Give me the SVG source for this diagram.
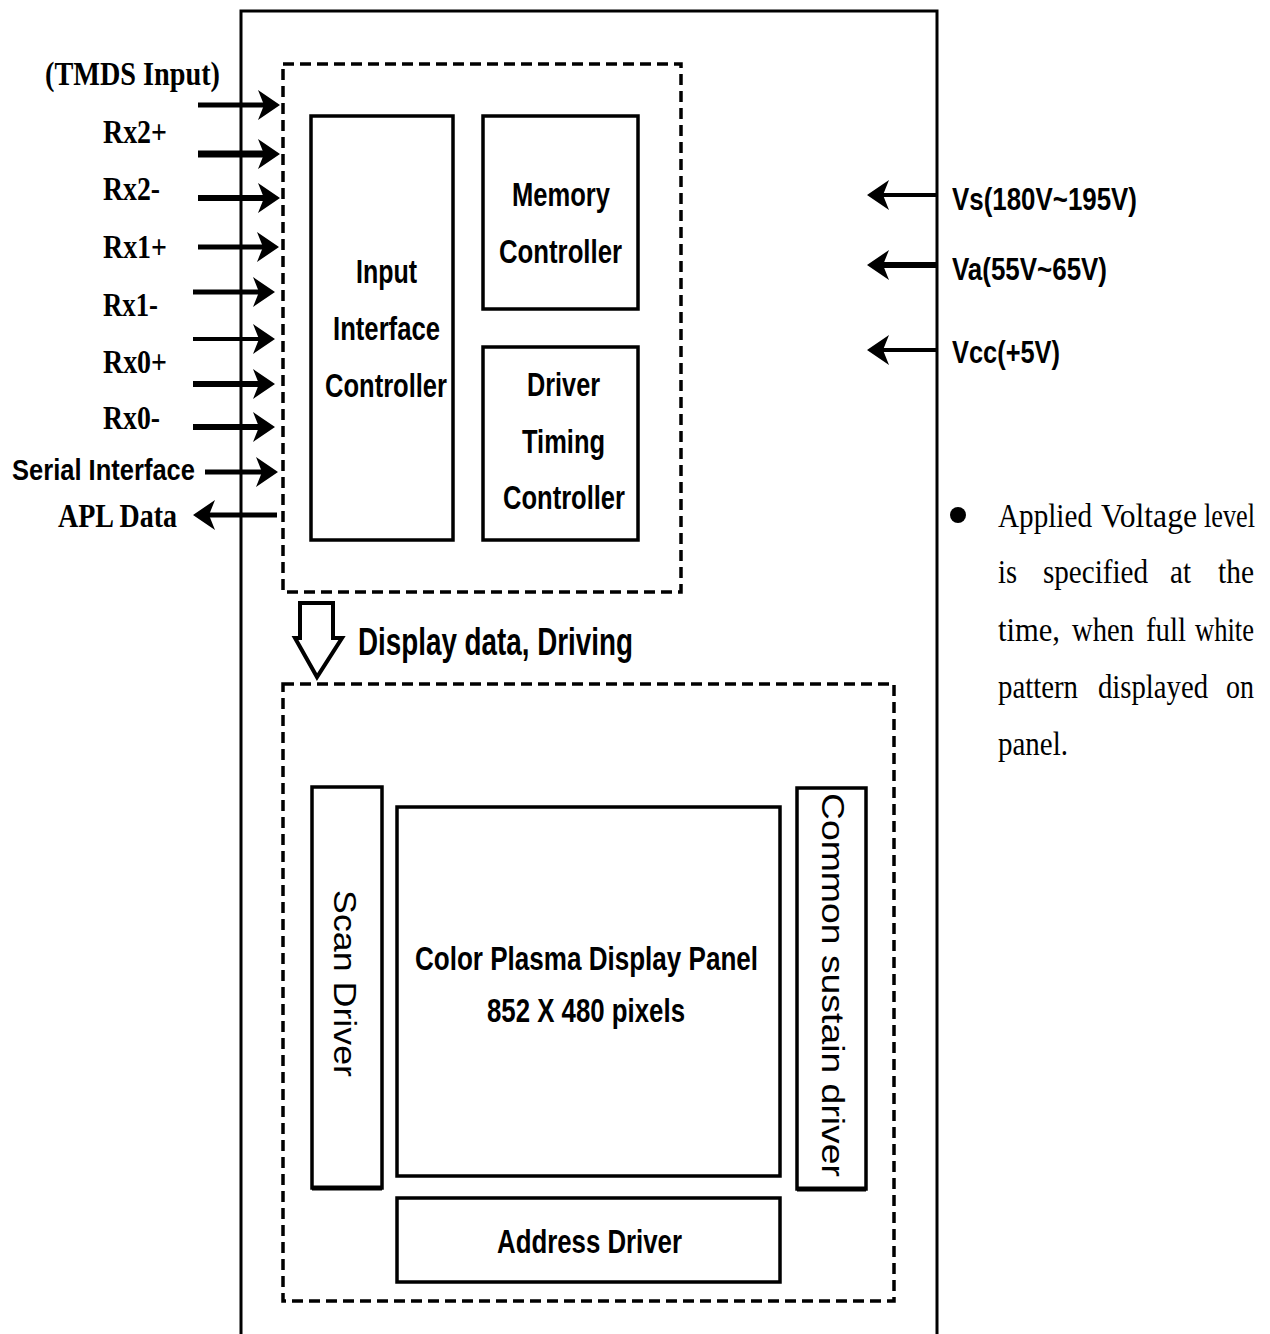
<svg xmlns="http://www.w3.org/2000/svg" width="1270" height="1334" viewBox="0 0 1270 1334">
<style>
.box{fill:none;stroke:#000;stroke-width:3.5}
.dash{fill:none;stroke:#000;stroke-width:3.5;stroke-dasharray:11 6}
.ar{stroke:#000;fill:none;marker-end:url(#ah)}
.sb{font-family:"Liberation Sans",Arial,sans-serif;font-weight:bold;fill:#000}
.sr{font-family:"Liberation Sans",Arial,sans-serif;fill:#000}
.tb{font-family:"Liberation Serif","Times New Roman",serif;font-weight:bold;fill:#000}
.tr{font-family:"Liberation Serif","Times New Roman",serif;fill:#000;font-size:33px}
</style>
<defs>
<marker id="ah" markerUnits="userSpaceOnUse" orient="auto" refX="0" refY="0" markerWidth="40" markerHeight="40" overflow="visible">
<path d="M10,0 L-12,-15 L-6,0 L-12,15 Z" fill="#000"/>
</marker>
</defs>
<rect width="1270" height="1334" fill="#fff"/>

<g id="outer">
<path d="M241,1334 V11 H937 V1334" fill="none" stroke="#000" stroke-width="3"/>
</g>

<g id="controller-group">
<rect class="dash" x="283" y="64" width="398" height="528"/>
</g>
<g id="panel-group">
<rect class="dash" x="283" y="684" width="611" height="617"/>
</g>

<g id="input-interface-controller">
<rect class="box" x="311" y="116" width="142" height="424"/>
<text class="sb" font-size="33" x="386.5" y="283" text-anchor="middle" textLength="61" lengthAdjust="spacingAndGlyphs">Input</text>
<text class="sb" font-size="33" x="386.5" y="340" text-anchor="middle" textLength="107" lengthAdjust="spacingAndGlyphs">Interface</text>
<text class="sb" font-size="33" x="386" y="397" text-anchor="middle" textLength="122" lengthAdjust="spacingAndGlyphs">Controller</text>
</g>

<g id="memory-controller">
<rect class="box" x="483" y="116" width="155" height="193"/>
<text class="sb" font-size="33" x="561" y="206" text-anchor="middle" textLength="98" lengthAdjust="spacingAndGlyphs">Memory</text>
<text class="sb" font-size="33" x="560.5" y="263" text-anchor="middle" textLength="123" lengthAdjust="spacingAndGlyphs">Controller</text>
</g>

<g id="driver-timing-controller">
<rect class="box" x="483" y="347" width="155" height="193"/>
<text class="sb" font-size="33" x="563.5" y="396" text-anchor="middle" textLength="73" lengthAdjust="spacingAndGlyphs">Driver</text>
<text class="sb" font-size="33" x="563.5" y="453" text-anchor="middle" textLength="83" lengthAdjust="spacingAndGlyphs">Timing</text>
<text class="sb" font-size="33" x="564" y="509" text-anchor="middle" textLength="122" lengthAdjust="spacingAndGlyphs">Controller</text>
</g>

<g id="scan-driver">
<rect class="box" x="312" y="787" width="70" height="401"/>
<line x1="312" y1="1188" x2="382" y2="1188" stroke="#000" stroke-width="5"/>
<text class="sr" font-size="31" transform="translate(345,983.5) rotate(90)" x="0" y="11" text-anchor="middle" textLength="187" lengthAdjust="spacingAndGlyphs">Scan Driver</text>
</g>

<g id="color-plasma-display-panel">
<rect class="box" x="397" y="807" width="383" height="369"/>
<text class="sb" font-size="33" x="586.5" y="970" text-anchor="middle" textLength="343" lengthAdjust="spacingAndGlyphs">Color Plasma Display Panel</text>
<text class="sb" font-size="33" x="586" y="1022" text-anchor="middle" textLength="198" lengthAdjust="spacingAndGlyphs">852 X 480 pixels</text>
</g>

<g id="common-sustain-driver">
<rect class="box" x="797" y="788" width="69" height="401"/>
<line x1="797" y1="1189" x2="866" y2="1189" stroke="#000" stroke-width="5"/>
<text class="sr" font-size="31" transform="translate(832,985) rotate(90)" x="0" y="10" text-anchor="middle" textLength="384" lengthAdjust="spacingAndGlyphs">Common sustain driver</text>
</g>

<g id="address-driver">
<rect class="box" x="397" y="1198" width="383" height="84"/>
<text class="sb" font-size="33" x="589.5" y="1253" text-anchor="middle" textLength="185" lengthAdjust="spacingAndGlyphs">Address Driver</text>
</g>

<g id="connectors">
<line class="ar" x1="198" y1="105" x2="270" y2="105" stroke-width="5"/>
<line class="ar" x1="198" y1="154" x2="270" y2="154" stroke-width="7"/>
<line class="ar" x1="198" y1="198" x2="270" y2="198" stroke-width="6"/>
<line class="ar" x1="198" y1="247" x2="269" y2="247" stroke-width="5"/>
<line class="ar" x1="193" y1="292" x2="265" y2="292" stroke-width="5"/>
<line class="ar" x1="193" y1="339" x2="265" y2="339" stroke-width="4"/>
<line class="ar" x1="193" y1="384" x2="265" y2="384" stroke-width="6"/>
<line class="ar" x1="193" y1="427" x2="265" y2="427" stroke-width="6"/>
<line class="ar" x1="205" y1="472" x2="268" y2="472" stroke-width="5"/>
<line class="ar" x1="277" y1="515" x2="203" y2="515" stroke-width="5"/>
<line class="ar" x1="937" y1="195" x2="877" y2="195" stroke-width="4"/>
<line class="ar" x1="937" y1="265" x2="877" y2="265" stroke-width="6"/>
<line class="ar" x1="937" y1="350" x2="877" y2="350" stroke-width="4"/>
<path d="M300,603 H333 V638 H342 L317,677 L295,638 H300 Z" fill="#fff" stroke="#000" stroke-width="4" stroke-linejoin="miter"/>
</g>

<g id="labels">
<text class="tb" font-size="34" x="45" y="85" textLength="175" lengthAdjust="spacingAndGlyphs">(TMDS Input)</text>
<text class="tb" font-size="34" x="103" y="143" textLength="64" lengthAdjust="spacingAndGlyphs">Rx2+</text>
<text class="tb" font-size="34" x="103" y="200" textLength="57" lengthAdjust="spacingAndGlyphs">Rx2-</text>
<text class="tb" font-size="34" x="103" y="258" textLength="64" lengthAdjust="spacingAndGlyphs">Rx1+</text>
<text class="tb" font-size="34" x="103" y="316" textLength="55" lengthAdjust="spacingAndGlyphs">Rx1-</text>
<text class="tb" font-size="34" x="103" y="373" textLength="64" lengthAdjust="spacingAndGlyphs">Rx0+</text>
<text class="tb" font-size="34" x="103" y="429" textLength="57" lengthAdjust="spacingAndGlyphs">Rx0-</text>
<text class="sb" font-size="29" x="12" y="480" textLength="183" lengthAdjust="spacingAndGlyphs">Serial Interface</text>
<text class="tb" font-size="34" x="58" y="527" textLength="119" lengthAdjust="spacingAndGlyphs">APL Data</text>
<text class="sb" font-size="31" x="952" y="210" textLength="185" lengthAdjust="spacingAndGlyphs">Vs(180V~195V)</text>
<text class="sb" font-size="31" x="952" y="280" textLength="155" lengthAdjust="spacingAndGlyphs">Va(55V~65V)</text>
<text class="sb" font-size="31" x="952" y="363" textLength="108" lengthAdjust="spacingAndGlyphs">Vcc(+5V)</text>
<text class="sb" font-size="38" x="358" y="655" textLength="275" lengthAdjust="spacingAndGlyphs">Display data, Driving</text>
</g>

<g id="note">
<circle cx="958" cy="515" r="8" fill="#000"/>
<text class="tr" x="998" y="527" textLength="94" lengthAdjust="spacingAndGlyphs">Applied</text>
<text class="tr" x="1101" y="527" textLength="96" lengthAdjust="spacingAndGlyphs">Voltage</text>
<text class="tr" x="1204" y="527" textLength="51" lengthAdjust="spacingAndGlyphs">level</text>
<text class="tr" x="998" y="583" textLength="19" lengthAdjust="spacingAndGlyphs">is</text>
<text class="tr" x="1043" y="583" textLength="105" lengthAdjust="spacingAndGlyphs">specified</text>
<text class="tr" x="1170" y="583" textLength="21" lengthAdjust="spacingAndGlyphs">at</text>
<text class="tr" x="1218" y="583" textLength="36" lengthAdjust="spacingAndGlyphs">the</text>
<text class="tr" x="998" y="641" textLength="62" lengthAdjust="spacingAndGlyphs">time,</text>
<text class="tr" x="1072" y="641" textLength="62" lengthAdjust="spacingAndGlyphs">when</text>
<text class="tr" x="1146" y="641" textLength="40" lengthAdjust="spacingAndGlyphs">full</text>
<text class="tr" x="1195" y="641" textLength="59" lengthAdjust="spacingAndGlyphs">white</text>
<text class="tr" x="998" y="698" textLength="80" lengthAdjust="spacingAndGlyphs">pattern</text>
<text class="tr" x="1098" y="698" textLength="110" lengthAdjust="spacingAndGlyphs">displayed</text>
<text class="tr" x="1226" y="698" textLength="28" lengthAdjust="spacingAndGlyphs">on</text>
<text class="tr" x="998" y="755" textLength="70" lengthAdjust="spacingAndGlyphs">panel.</text>
</g>
</svg>
